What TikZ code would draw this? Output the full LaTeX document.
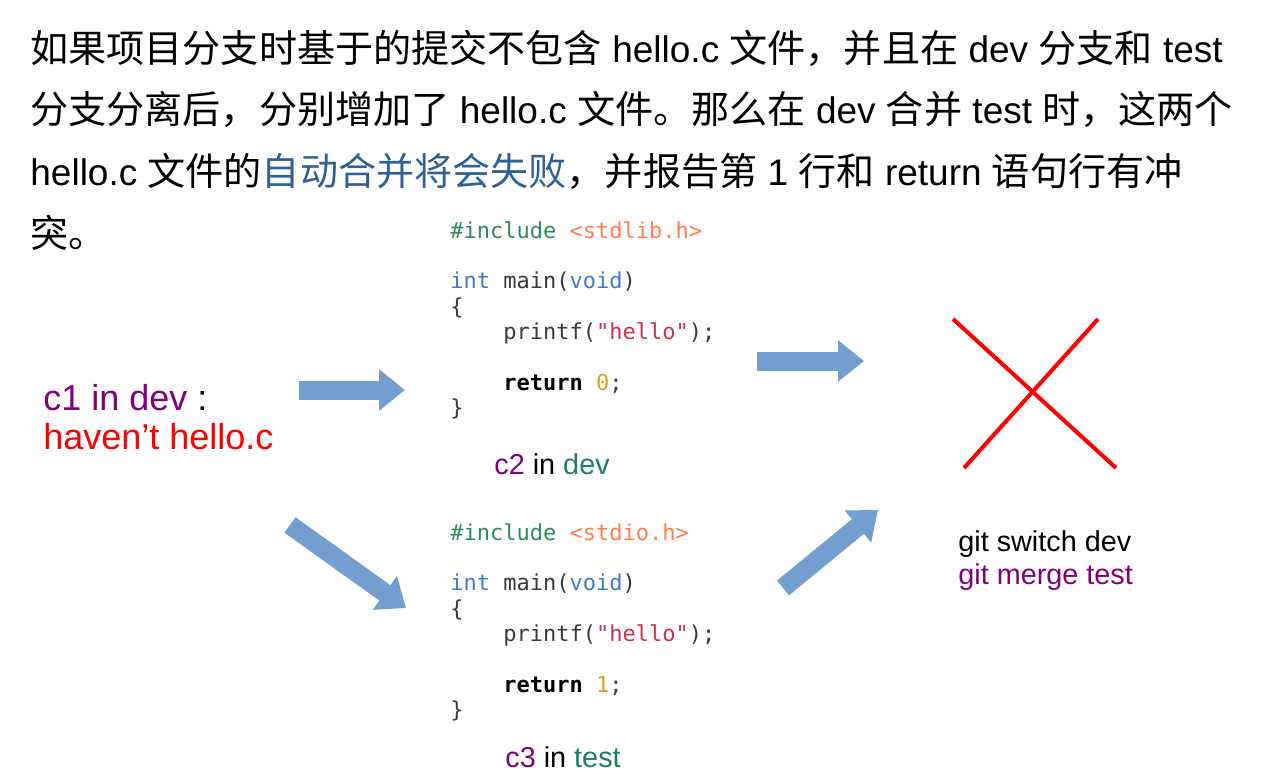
\documentclass[tikz,border=0pt]{standalone}
\usepackage{fontspec}
\setmainfont{Liberation Sans}
\setmonofont{DejaVu Sans Mono}
\newfontfamily\cjk{Noto Sans CJK SC}[Scale=1.03]
\usetikzlibrary{arrows.meta, positioning}
\definecolor{autoblue}{HTML}{2F6199}
\definecolor{arrowblue}{HTML}{729FCF}
\definecolor{cpurple}{HTML}{800080}
\definecolor{cgreen}{HTML}{1B7F5F}
\definecolor{cinc}{HTML}{2E8B57}
\definecolor{chdr}{HTML}{FF7F50}
\definecolor{ckw}{HTML}{3D7CC9}
\definecolor{cdef}{HTML}{3A3A3A}
\definecolor{cstr}{HTML}{D0304A}
\definecolor{cnum}{HTML}{D9A21B}
\newcommand\zh[1]{{\cjk #1}}
\newcommand\ind{\phantom{xxxx}}

\begin{document}
\begin{tikzpicture}[
    x=0.5pt, y=-0.5pt,
    para/.style={anchor=base west, inner sep=0pt, font=\fontsize{18.5}{22}\selectfont},
    code/.style={anchor=north west, inner sep=0pt, align=left, text=cdef, font=\ttfamily\fontsize{11}{12.65}\selectfont},
    lbl/.style={anchor=base west, inner sep=0pt, font=\fontsize{18}{21}\selectfont},
    small/.style={anchor=base west, inner sep=0pt, font=\fontsize{14.4}{17}\selectfont},
    blk/.style={draw=arrowblue, line width=9.5pt, -{Triangle[width=20pt, length=13pt]}},
    cross/.style={draw=red, line width=2pt},
  ]
  \useasboundingbox (0,0) rectangle (1273,773);

  % Text above
  \node[para] (l1) at (30,62) {\zh{如果项目分支时基于的提交不包含} hello.c \zh{文件，并且在} dev \zh{分支和} test};
  \node[para] (l2) at (30,123) {\zh{分支分离后，分别增加了} hello.c \zh{文件。那么在} dev \zh{合并} test \zh{时，这两个}};
  \node[para] (l3) at (30,185) {hello.c \zh{文件的\textcolor{autoblue}{自动合并将会失败}，并报告第} 1 \zh{行和} return \zh{语句行有冲}};
  \node[para] (l4) at (30,247) {\zh{突。}};

  % Commits
  \node[lbl] (c1) at (43,410) {\textcolor{cpurple}{c1 in dev} :};
  \node[lbl] (c1note) at (43,449) {\textcolor{red}{haven’t hello.c}};

  \node[code] (code2) at (450,221) {%
    \textcolor{cinc}{\#include} \textcolor{chdr}{<stdlib.h>}\\
    \mbox{}\\
    \textcolor{ckw}{int} main(\textcolor{ckw}{void})\\
    \{\\
    \ind printf(\textcolor{cstr}{"hello"});\\
    \mbox{}\\
    \ind\textcolor{black}{\textbf{return}} \textcolor{cnum}{0};\\
    \}};
  \node[small] (c2) at (494,474) {\textcolor{cpurple}{c2} in \textcolor{cgreen}{dev}};

  \node[code] (code3) at (450,523) {%
    \textcolor{cinc}{\#include} \textcolor{chdr}{<stdio.h>}\\
    \mbox{}\\
    \textcolor{ckw}{int} main(\textcolor{ckw}{void})\\
    \{\\
    \ind printf(\textcolor{cstr}{"hello"});\\
    \mbox{}\\
    \ind\textcolor{black}{\textbf{return}} \textcolor{cnum}{1};\\
    \}};
  \node[small] (c3) at (505,767) {\textcolor{cpurple}{c3} in \textcolor{cgreen}{test}};

  % Merge
  \node[small] (sw) at (958,551) {git switch dev};
  \node[small] (mg) at (958,584) {\textcolor{cpurple}{git merge test}};

  % Arrow ends
  \coordinate (a1s) at (299,390);
  \coordinate (a1e) at (405,390);
  \coordinate (a2s) at (757,361);
  \coordinate (a2e) at (864,361);
  \coordinate (a3s) at (290,525);
  \coordinate (a3e) at (406,608);
  \coordinate (a4s) at (783,588);
  \coordinate (a4e) at (878,510);

  \draw[blk] (a1s) -- (a1e);
  \draw[blk] (a2s) -- (a2e);
  \draw[blk] (a3s) -- (a3e);
  \draw[blk] (a4s) -- (a4e);

  % Conflict
  \draw[cross] (953,319) -- (1116,468);
  \draw[cross] (1098,319) -- (964,468);
\end{tikzpicture}
\end{document}
